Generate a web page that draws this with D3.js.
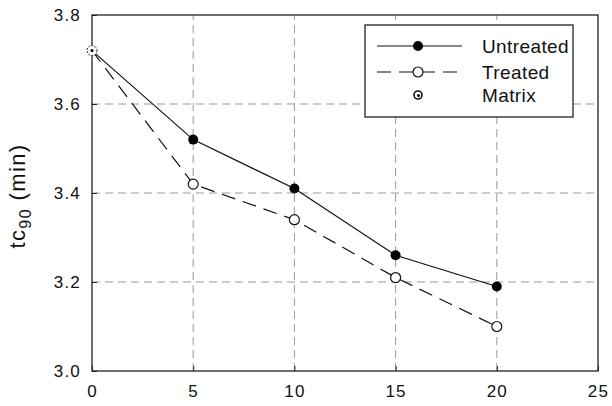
<!DOCTYPE html>
<html>
<head>
<meta charset="utf-8">
<script src="https://cdn.jsdelivr.net/npm/d3@7"></script>
<style>
  body { margin: 0; background: #fff; }
  text { font-family: "Liberation Sans", Arial, sans-serif; fill: #111; }
</style>
</head>
<body>
<script>
var loading = [0, 5, 10, 15, 20];
var untreated = [3.72, 3.52, 3.41, 3.26, 3.19];
var treated = [3.72, 3.42, 3.34, 3.21, 3.10];
var matrix = [{ x: 0, y: 3.72 }];
var xTicks = [0, 5, 10, 15, 20, 25];
var yTicks = [3.0, 3.2, 3.4, 3.6, 3.8];

var w = 612, h = 406;
var m = { left: 92, right: 14, top: 15, bottom: 35 };

var svg = d3.select("body").append("svg")
    .attr("width", w)
    .attr("height", h);

var x = d3.scaleLinear().domain([0, 25]).range([m.left, w - m.right]);
var y = d3.scaleLinear().domain([3.0, 3.8]).range([h - m.bottom, m.top]);

// grid
svg.append("g").selectAll("line")
    .data(xTicks.slice(1, -1))
    .enter().append("line")
    .attr("x1", d => x(d)).attr("x2", d => x(d))
    .attr("y1", y(3.0)).attr("y2", y(3.8))
    .attr("stroke", "#999").attr("stroke-dasharray", "8,5");
svg.append("g").selectAll("line")
    .data(yTicks.slice(1, -1))
    .enter().append("line")
    .attr("x1", x(0)).attr("x2", x(25))
    .attr("y1", d => y(d)).attr("y2", d => y(d))
    .attr("stroke", "#999").attr("stroke-dasharray", "8,5");

// axes (ticks inward)
svg.append("g")
    .attr("transform", "translate(0," + y(3.0) + ")")
    .call(d3.axisBottom(x).tickValues(xTicks).tickSizeInner(-5).tickSizeOuter(0).tickPadding(14).tickFormat(d3.format("d")))
    .call(g => g.select(".domain").remove())
    .selectAll("text").attr("font-size", 17).attr("letter-spacing", "1.2px")
    .attr("font-family", "Liberation Sans, Arial").attr("fill", "#111");
svg.append("g")
    .attr("transform", "translate(" + x(0) + ",0)")
    .call(d3.axisLeft(y).tickValues(yTicks).tickSizeInner(-5).tickSizeOuter(0).tickPadding(11).tickFormat(d3.format(".1f")))
    .call(g => g.select(".domain").remove())
    .selectAll("text").attr("font-size", 17).attr("letter-spacing", "1.2px")
    .attr("font-family", "Liberation Sans, Arial").attr("fill", "#111");
svg.selectAll(".tick line").attr("stroke", "#222");

// frame
svg.append("rect")
    .attr("x", x(0)).attr("y", y(3.8))
    .attr("width", x(25) - x(0)).attr("height", y(3.0) - y(3.8))
    .attr("fill", "none").attr("stroke", "#222").attr("stroke-width", 1.3);

var line = d3.line().x((d, i) => x(loading[i])).y(d => y(d));

svg.append("path").datum(untreated).attr("d", line)
    .attr("fill", "none").attr("stroke", "#111").attr("stroke-width", 1.2);
svg.append("path").datum(treated).attr("d", line)
    .attr("fill", "none").attr("stroke", "#111").attr("stroke-width", 1.2)
    .attr("stroke-dasharray", "14,8");

svg.append("g").selectAll("circle")
    .data(untreated.slice(1)).enter().append("circle")
    .attr("cx", (d, i) => x(loading[i + 1])).attr("cy", d => y(d))
    .attr("r", 5).attr("fill", "#000");
svg.append("g").selectAll("circle")
    .data(treated.slice(1)).enter().append("circle")
    .attr("cx", (d, i) => x(loading[i + 1])).attr("cy", d => y(d))
    .attr("r", 5).attr("fill", "#fff").attr("stroke", "#111").attr("stroke-width", 1.2);

// matrix point
var mg = svg.append("g").selectAll("g").data(matrix).enter().append("g");
mg.append("circle")
    .attr("cx", d => x(d.x)).attr("cy", d => y(d.y)).attr("r", 5)
    .attr("fill", "#fff").attr("stroke", "#222").attr("stroke-dasharray", "2,1.2");
mg.append("circle")
    .attr("cx", d => x(d.x)).attr("cy", d => y(d.y)).attr("r", 1.6)
    .attr("fill", "#111");

// y label
svg.append("text")
    .attr("transform", "translate(25," + ((y(3.0) + y(3.8)) / 2 + 3) + ") rotate(-90)")
    .attr("text-anchor", "middle")
    .attr("font-size", 22)
    .attr("letter-spacing", "1.4px")
    .call(t => {
        t.append("tspan").text("tc");
        t.append("tspan").attr("font-size", 16).attr("dy", 6).text("90");
        t.append("tspan").attr("dy", -6).text(" (min)");
    });

// legend
var lg = svg.append("g");
lg.append("rect")
    .attr("x", 365).attr("y", 25).attr("width", 208).attr("height", 92)
    .attr("fill", "#fff").attr("stroke", "#222").attr("stroke-width", 1.3);
var items = ["Untreated", "Treated", "Matrix"];
var rowY = [46, 72, 95];
lg.append("line").attr("x1", 377).attr("x2", 462).attr("y1", rowY[0]).attr("y2", rowY[0])
    .attr("stroke", "#111").attr("stroke-width", 1.2);
lg.append("circle").attr("cx", 418).attr("cy", rowY[0]).attr("r", 5).attr("fill", "#000");
lg.append("line").attr("x1", 377).attr("x2", 462).attr("y1", rowY[1]).attr("y2", rowY[1])
    .attr("stroke", "#111").attr("stroke-width", 1.2).attr("stroke-dasharray", "14,8");
lg.append("circle").attr("cx", 418).attr("cy", rowY[1]).attr("r", 5)
    .attr("fill", "#fff").attr("stroke", "#111").attr("stroke-width", 1.2);
lg.append("circle").attr("cx", 418).attr("cy", rowY[2]).attr("r", 4)
    .attr("fill", "#fff").attr("stroke", "#111").attr("stroke-width", 1.6);
lg.append("circle").attr("cx", 418.5).attr("cy", rowY[2] + 0.5).attr("r", 1.6).attr("fill", "#111");
lg.selectAll("text.lab").data(items).enter().append("text")
    .attr("x", 482).attr("y", (d, i) => rowY[i] + 7)
    .attr("font-size", 19).attr("letter-spacing", "0.4px").text(d => d);
</script>
</body>
</html>
